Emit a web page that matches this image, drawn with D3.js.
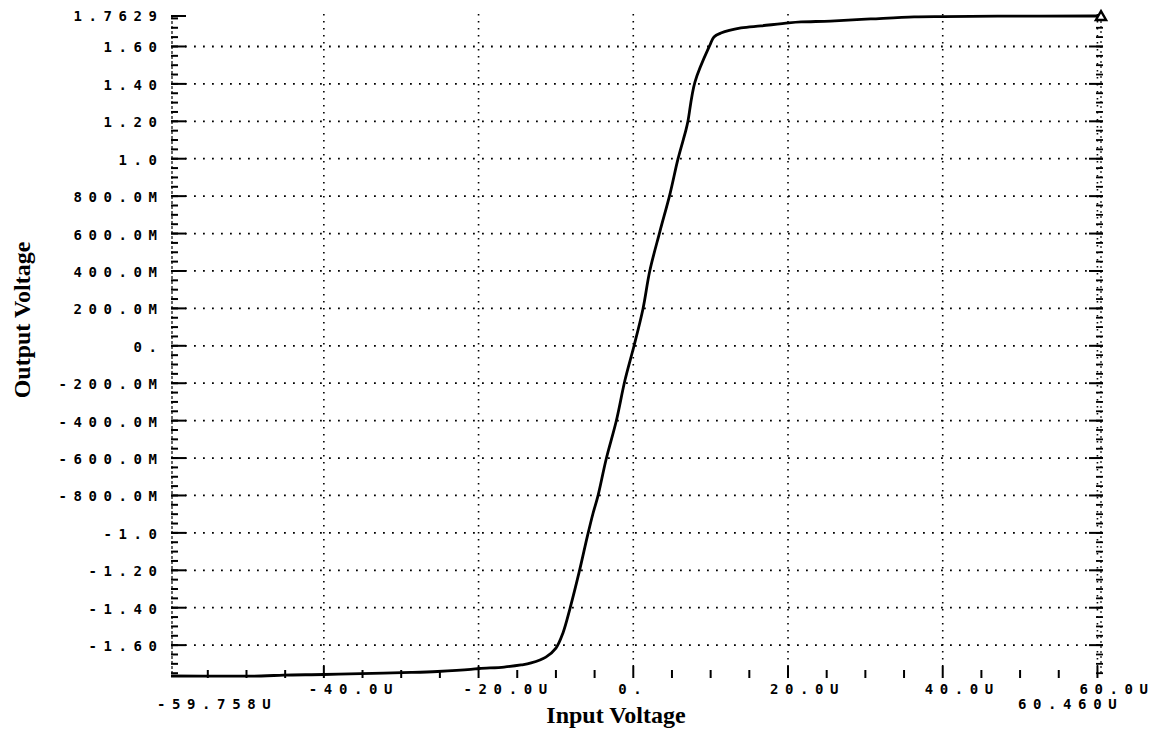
<!DOCTYPE html>
<html>
<head>
<meta charset="utf-8">
<script src="https://cdn.jsdelivr.net/npm/d3@7"></script>
<style>
  body { margin: 0; background: #fff; }
  .tl { font-family: "DejaVu Sans Mono", monospace; font-weight: bold; font-size: 14px; letter-spacing: 6.6px; fill: #000; }
  .title { font-family: "Liberation Serif", "Times New Roman", serif; font-weight: bold; font-size: 24px; fill: #000; }
</style>
</head>
<body>
<svg id="chart" width="1167" height="736"></svg>
<script>
'use strict'

// transfer curve (input in uV, output in V)
const inputVoltage = [-59.758, -48.1, -45.2, -40.0, -35.2, -28.7, -25.3, -21.0, -19.9, -16.7, -14.5, -13.2,
  -11.3, -10.0, -9.1, -8.2, -7.0, -5.9, -5.2, -4.6, -3.5, -2.2, -1.07, 0.09, 1.25, 2.13, 3.42, 4.74,
  5.78, 6.81, 7.07, 7.97, 9.91, 10.43, 11.33, 13.92, 16.5, 20.1, 21.7, 25.5, 30.7, 36.3, 40.1, 47.1, 59.6, 60.46]
const outputVoltage = [-1.765, -1.765, -1.760, -1.757, -1.752, -1.746, -1.741, -1.730, -1.725, -1.717, -1.706, -1.695,
  -1.664, -1.616, -1.536, -1.407, -1.210, -1.012, -0.895, -0.808, -0.605, -0.402, -0.183, -0.001, 0.197, 0.400, 0.608, 0.811,
  0.999, 1.154, 1.202, 1.410, 1.608, 1.651, 1.672, 1.699, 1.710, 1.726, 1.731, 1.736, 1.747, 1.758, 1.760, 1.762, 1.7629, 1.7629]

const xDomain = [-59.758, 60.46]
const yDomain = [-1.765, 1.7629]

const xTickValues = [-40, -20, 0, 20, 40, 60]
const xTickLabels = ['-40.0U', '-20.0U', '0.', '20.0U', '40.0U', '60.0U']
const xEndLabels = ['-59.758U', '60.460U']

const yTickValues = [1.6, 1.4, 1.2, 1.0, 0.8, 0.6, 0.4, 0.2, 0, -0.2, -0.4, -0.6, -0.8, -1.0, -1.2, -1.4, -1.6]
const yTickLabels = ['1.60', '1.40', '1.20', '1.0', '800.0M', '600.0M', '400.0M', '200.0M', '0.',
  '-200.0M', '-400.0M', '-600.0M', '-800.0M', '-1.0', '-1.20', '-1.40', '-1.60']
const yTopLabel = '1.7629'

const svg = d3.select('#chart')
const x = d3.scaleLinear().domain(xDomain).range([171, 1101])
const y = d3.scaleLinear().domain(yDomain).range([676, 16])
const xLeft = x.range()[0], xRight = x.range()[1]
const yTop = y.range()[1], yBottom = y.range()[0]

// minor ticks every 5u on x, every 0.05 on y
const xMinor = d3.range(-55, 61, 5)
const yMinor = d3.range(-35, 36).map(d => d * 0.05).filter(d => d > yDomain[0] && d < yDomain[1])

// dotted grid
svg.append('g').selectAll('line')
  .data(yTickValues).enter().append('line')
  .attr('x1', xLeft + 14).attr('x2', xRight - 8)
  .attr('y1', d => y(d)).attr('y2', d => y(d))
  .attr('stroke', '#000').attr('stroke-width', 1.8)
  .attr('stroke-dasharray', '1.8,7.2')

svg.append('g').selectAll('line')
  .data(xTickValues).enter().append('line')
  .attr('x1', d => x(d)).attr('x2', d => x(d))
  .attr('y1', yTop - 2).attr('y2', yBottom - 10)
  .attr('stroke', '#000').attr('stroke-width', 1.6)
  .attr('stroke-dasharray', '1.6,5.4')

// left axis: broken line + ticks
svg.append('line')
  .attr('x1', xLeft + 1).attr('x2', xLeft + 1).attr('y1', yTop).attr('y2', yBottom)
  .attr('stroke', '#000').attr('stroke-width', 1.2).attr('stroke-dasharray', '3,2')
svg.append('g').selectAll('line')
  .data(yMinor).enter().append('line')
  .attr('x1', xLeft).attr('x2', xLeft + 7)
  .attr('y1', d => y(d)).attr('y2', d => y(d))
  .attr('stroke', '#000').attr('stroke-width', 2)
svg.append('g').selectAll('line')
  .data(yTickValues.concat([yDomain[1]])).enter().append('line')
  .attr('x1', xLeft).attr('x2', xLeft + 15)
  .attr('y1', d => y(d)).attr('y2', d => y(d))
  .attr('stroke', '#000').attr('stroke-width', 2)

// right axis
svg.append('line')
  .attr('x1', xRight).attr('x2', xRight).attr('y1', yTop).attr('y2', yBottom)
  .attr('stroke', '#000').attr('stroke-width', 1.2).attr('stroke-dasharray', '2,3')
svg.append('g').selectAll('line')
  .data(yMinor).enter().append('line')
  .attr('x1', xRight - 5).attr('x2', xRight + 2)
  .attr('y1', d => y(d)).attr('y2', d => y(d))
  .attr('stroke', '#000').attr('stroke-width', 1.8)
svg.append('g').selectAll('line')
  .data(yTickValues).enter().append('line')
  .attr('x1', xRight - 12).attr('x2', xRight + 2)
  .attr('y1', d => y(d)).attr('y2', d => y(d))
  .attr('stroke', '#000').attr('stroke-width', 2)

// bottom ticks (no axis line, the curve sits on it)
svg.append('g').selectAll('line')
  .data(xMinor).enter().append('line')
  .attr('x1', d => x(d)).attr('x2', d => x(d))
  .attr('y1', d => xTickValues.includes(d) ? yBottom - 10 : yBottom - 6)
  .attr('y2', yBottom + 2)
  .attr('stroke', '#000').attr('stroke-width', 2)

// curve
const pts = inputVoltage.map((v, i) => [v, outputVoltage[i]])
svg.append('path')
  .datum(pts)
  .attr('fill', 'none').attr('stroke', '#000').attr('stroke-width', 2.8)
  .attr('stroke-linejoin', 'round')
  .attr('d', d3.line().x(d => x(d[0])).y(d => y(d[1])).curve(d3.curveCatmullRom.alpha(0.5)))

// end marker
const last = pts[pts.length - 1]
svg.append('path')
  .attr('d', d3.symbol(d3.symbolTriangle, 45)())
  .attr('transform', 'translate(' + x(last[0]) + ',' + (y(last[1]) + 1) + ')')
  .attr('fill', '#fff').attr('stroke', '#000').attr('stroke-width', 2.4)

// y labels (letter-spacing trails the last glyph, so shift by it)
const yLab = svg.append('g').attr('class', 'tl').attr('text-anchor', 'end')
yLab.selectAll('text')
  .data(yTickValues).enter().append('text')
  .attr('x', 157 + 6.6)
  .attr('y', d => y(d) + 6)
  .text((d, i) => yTickLabels[i])
yLab.append('text')
  .attr('x', 157 + 6.6).attr('y', y(yDomain[1]) + 5)
  .text(yTopLabel)

// x labels
const xLab = svg.append('g').attr('class', 'tl')
xLab.selectAll('text')
  .data(xTickValues).enter().append('text')
  .attr('x', (d, i) => x(d) - (d >= 20 ? 18 : 15))
  .attr('y', 694)
  .text((d, i) => xTickLabels[i])
xLab.append('text').attr('x', xLeft - 14).attr('y', 709).text(xEndLabels[0])
xLab.append('text').attr('x', xRight - 83).attr('y', 709).text(xEndLabels[1])

// axis titles
svg.append('text').attr('class', 'title')
  .attr('x', 616).attr('y', 723).attr('text-anchor', 'middle')
  .text('Input Voltage')
svg.append('text').attr('class', 'title')
  .attr('transform', 'translate(30,320) rotate(-90)')
  .attr('text-anchor', 'middle')
  .text('Output Voltage')
</script>
</body>
</html>
